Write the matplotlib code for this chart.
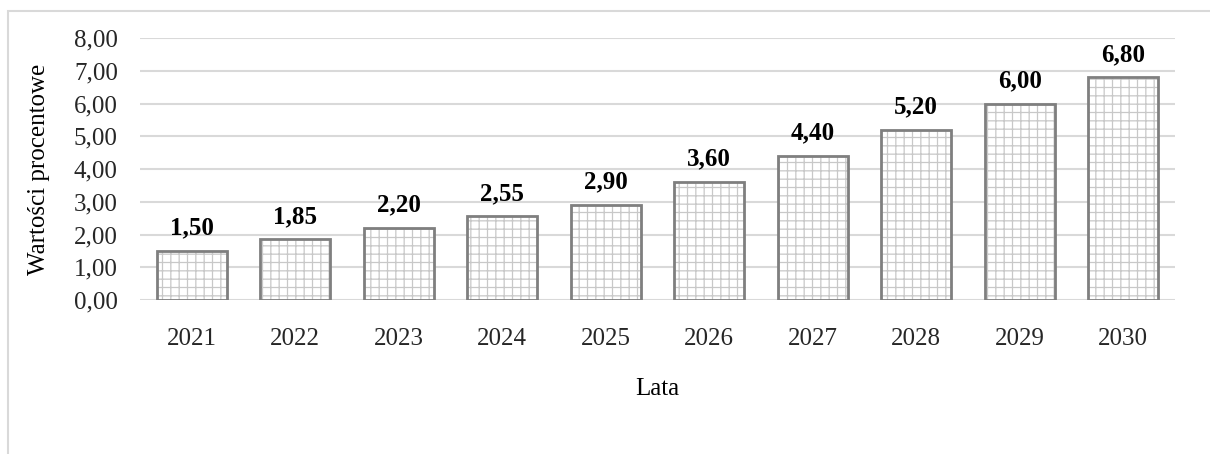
import matplotlib.pyplot as plt
from matplotlib.patches import Rectangle

# === data ===
years = ['2021', '2022', '2023', '2024', '2025', '2026', '2027', '2028', '2029', '2030']
values = [1.50, 1.85, 2.20, 2.55, 2.90, 3.60, 4.40, 5.20, 6.00, 6.80]
y_ticks = [0, 1, 2, 3, 4, 5, 6, 7, 8]

plt.rcParams['font.family'] = ['Liberation Serif', 'DejaVu Serif']
plt.rcParams['hatch.linewidth'] = 0.9

fig = plt.figure(figsize=(12.1, 4.54), dpi=100)
ax = fig.add_axes([140 / 1210, 1 - 300 / 454, 1035 / 1210, 262 / 454])

x = list(range(len(years)))

# hatched fill in light gray, then the dark outline on top
ax.bar(x, values, width=0.68, color='white', edgecolor='#c8c8c8', hatch='++',
       linewidth=0, zorder=2)
ax.bar(x, values, width=0.68, fill=False, edgecolor='#7f7f7f', linewidth=2, zorder=3)

for xi, v in zip(x, values):
    ax.text(xi, v + 0.5, f'{v:.2f}'.replace('.', ','), ha='center', va='baseline',
            fontsize=18, fontweight='bold', color='black')

ax.set_xlim(-0.5, len(years) - 0.5)
ax.set_ylim(0, 8)
ax.set_yticks(y_ticks)
ax.set_yticklabels([f'{t:.2f}'.replace('.', ',') for t in y_ticks])
ax.set_xticks(x)
ax.set_xticklabels(years)
ax.tick_params(axis='both', length=0, labelsize=18, colors='#262626')
ax.tick_params(axis='x', pad=20)
ax.tick_params(axis='y', pad=16)

ax.grid(axis='y', color='#d9d9d9', linewidth=1.5, zorder=0)
ax.set_axisbelow(True)
for s in ax.spines.values():
    s.set_visible(False)

ax.set_xlabel('Lata', fontsize=18, labelpad=20)
ax.set_ylabel('Wartości procentowe', fontsize=18, labelpad=17)

# outer chart frame
fig.patches.append(Rectangle((8 / 1210, -0.05), 1.2, 1 - 11 / 454 + 0.05,
                             transform=fig.transFigure, fill=False,
                             edgecolor='#d9d9d9', linewidth=1.5))

fig.savefig('out.png', dpi=100)
